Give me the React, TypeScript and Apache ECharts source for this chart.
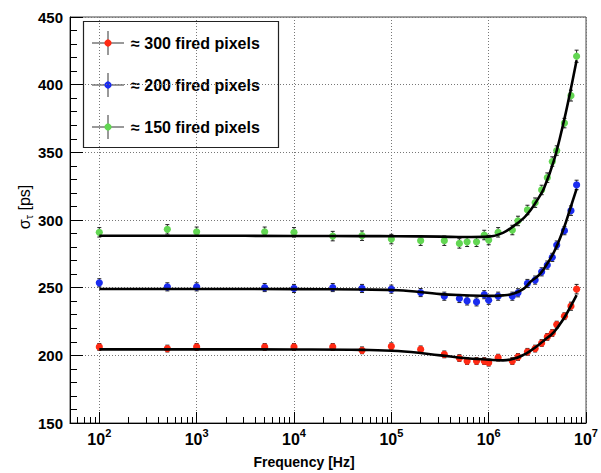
import React, { useEffect, useRef } from 'react';
import * as echarts from 'echarts';

// ---- data ----
const FREQ_HZ = [100, 500, 1e3, 5e3, 1e4, 2.5e4, 5e4, 1e5, 2e5, 3.5e5, 5e5, 6e5, 7.5e5, 9e5, 1e6, 1.25e6, 1.75e6, 2e6, 2.5e6, 3e6, 3.5e6, 4e6, 4.5e6, 5e6, 6e6, 7e6, 8e6];
const SIGMA_300 = [206.2, 205.0, 206.2, 206.2, 206.2, 206.2, 203.7, 206.7, 204.4, 200.7, 198.0, 195.8, 195.8, 195.8, 194.6, 198.3, 195.8, 198.8, 202.6, 205.0, 209.1, 213.6, 216.5, 222.7, 228.9, 236.3, 248.9];
const SIGMA_200 = [253.6, 250.6, 250.6, 250.1, 249.4, 250.1, 249.4, 248.9, 246.4, 243.7, 242.0, 240.2, 239.5, 244.8, 240.7, 243.7, 243.7, 246.2, 253.1, 255.6, 261.7, 266.7, 272.4, 281.5, 292.1, 306.9, 325.9];
const SIGMA_150 = [290.9, 293.1, 291.3, 291.3, 290.9, 288.1, 288.4, 285.9, 284.7, 284.7, 282.7, 283.9, 283.9, 288.9, 285.2, 290.9, 292.6, 299.3, 307.4, 312.8, 322.2, 331.3, 343.2, 351.3, 371.6, 391.9, 421.0];
const ERR_300 = [2.5, 2.5, 2.5, 2.5, 2.5, 2.5, 2.5, 2.5, 2.5, 2.5, 2.5, 2.5, 2.5, 2.5, 2.5, 2.5, 2.5, 2.5, 2.5, 2.5, 2.5, 2.5, 2.5, 2.5, 2.5, 3, 3.5];
const ERR_200 = [3, 3, 3, 3, 3, 3, 3, 3, 3, 3, 3, 3, 3, 3, 3, 3, 3, 3, 3, 3, 3, 3, 3, 3, 3, 3.5, 3.5];
const ERR_150 = [3.5, 3.5, 3.5, 3.5, 3.5, 3.5, 3.5, 3.5, 3.5, 3.5, 3.5, 3.5, 3.5, 3.5, 3.5, 3.5, 3.5, 3.5, 3.5, 3.5, 3.5, 3.5, 3.5, 3.5, 3.5, 4, 4.5];

const FIT_FREQ_HZ = [100, 1e3, 1e4, 5e4, 1.17e5, 3.2e5, 5.6e5, 1e6, 1.4e6, 1.8e6, 2.3e6, 2.7e6, 3.2e6, 3.7e6, 4.7e6, 5.9e6, 6.9e6, 8e6];
const FIT_300 = [204.4, 204.4, 204.3, 204.0, 203.2, 200.0, 198.0, 196.8, 196.3, 197.4, 200.5, 203.5, 207.3, 211.0, 217.4, 227.2, 235.8, 244.5];
const FIT_200 = [249.0, 249.0, 248.9, 248.6, 248.1, 245.2, 244.4, 243.9, 244.3, 245.6, 249.3, 254.5, 258.5, 264.0, 276.5, 293.8, 308.7, 323.0];
const FIT_150 = [288.4, 288.4, 288.2, 288.1, 288.0, 287.7, 287.4, 287.7, 290.5, 295.5, 301.6, 307.4, 315.5, 323.5, 344.4, 372.6, 395.2, 418.0];

const SERIES_NAMES = ['≈ 300 fired pixels', '≈ 200 fired pixels', '≈ 150 fired pixels'];
const SERIES_COLORS = ['#ff2a14', '#1a2cf0', '#62d652'];

const X_MIN_HZ = 50;
const X_MAX_HZ = 1e7;
const DECADE_EXPONENTS = [2, 3, 4, 5, 6, 7];
const Y_MIN = 150;
const Y_MAX = 450;
const Y_STEP = 50;

const FONT = '"Liberation Sans", Arial, Helvetica, sans-serif';

const minorTickValues: number[] = [];
for (let n = 1; n <= 6; n++) {
  for (let k = 2; k <= 9; k++) {
    const v = Math.log10(k * Math.pow(10, n));
    if (v > Math.log10(X_MIN_HZ) + 1e-9 && v < Math.log10(X_MAX_HZ)) minorTickValues.push(v);
  }
}

function errorSeries(name: string, color: string, values: number[], errs: number[]) {
  return {
    type: 'custom',
    name,
    xAxisIndex: 0,
    yAxisIndex: 0,
    z: 3,
    encode: { x: 0, y: 1 },
    data: FREQ_HZ.map((f, i) => [Math.log10(f), values[i], errs[i]]),
    renderItem: (params: any, api: any) => {
      const x = api.value(0);
      const y = api.value(1);
      const e = api.value(2);
      const c = api.coord([x, y]);
      const top = api.coord([x, y + e]);
      const bot = api.coord([x, y - e]);
      const cap = 2;
      const ls = { stroke: '#222', lineWidth: 1 };
      return {
        type: 'group',
        children: [
          { type: 'line', shape: { x1: c[0], y1: top[1], x2: c[0], y2: bot[1] }, style: ls },
          { type: 'line', shape: { x1: c[0] - cap, y1: top[1], x2: c[0] + cap, y2: top[1] }, style: ls },
          { type: 'line', shape: { x1: c[0] - cap, y1: bot[1], x2: c[0] + cap, y2: bot[1] }, style: ls },
          { type: 'circle', shape: { cx: c[0], cy: c[1], r: 3.6 }, style: { fill: color } },
        ],
      };
    },
  };
}

function fitSeries(values: number[]) {
  return {
    type: 'line',
    xAxisIndex: 0,
    yAxisIndex: 0,
    z: 4,
    symbol: 'none',
    smooth: 0.4,
    lineStyle: { color: '#000', width: 2.6 },
    data: FIT_FREQ_HZ.map((f, i) => [Math.log10(f), values[i]]),
  };
}

function legendGraphic() {
  const rowsY = [43, 85, 127];
  const children: any[] = [
    { type: 'rect', shape: { x: 83.5, y: 21.5, width: 195, height: 126 }, style: { fill: '#fff', stroke: '#222', lineWidth: 1.2 } },
  ];
  rowsY.forEach((y, i) => {
    children.push(
      { type: 'line', shape: { x1: 92, y1: y, x2: 124, y2: y }, style: { stroke: '#555', lineWidth: 1.2 } },
      { type: 'line', shape: { x1: 108, y1: y - 12, x2: 108, y2: y + 12 }, style: { stroke: '#555', lineWidth: 1.2 } },
      { type: 'circle', shape: { cx: 108, cy: y, r: 3.6 }, style: { fill: SERIES_COLORS[i] } },
      {
        type: 'text',
        x: 131,
        y: y,
        style: { text: SERIES_NAMES[i], fill: '#000', font: `bold 16px ${FONT}`, align: 'left', verticalAlign: 'middle' },
      }
    );
  });
  return { type: 'group', z: 10, children };
}

export default function App() {
  const ref = useRef<HTMLDivElement>(null);
  useEffect(() => {
    if (!ref.current) return;
    const chart = echarts.init(ref.current, undefined, { renderer: 'svg' });
    const option: any = {
      animation: false,
      backgroundColor: '#fff',
      grid: { left: 70, right: 12, top: 17, bottom: 50, show: true, borderColor: '#444', borderWidth: 1 },
      xAxis: [
        {
          type: 'value',
          min: Math.log10(X_MIN_HZ),
          max: Math.log10(X_MAX_HZ),
          axisLine: { show: true, lineStyle: { color: '#000', width: 1 } },
          axisTick: { show: true, inside: true, length: 11, customValues: DECADE_EXPONENTS, lineStyle: { color: '#000' } },
          axisLabel: {
            customValues: DECADE_EXPONENTS,
            margin: 4,
            formatter: (v: number) => `{b|10}{s|${Math.round(v)}}`,
            rich: {
              b: { fontSize: 16, fontWeight: 'bold', fontFamily: FONT, color: '#000', verticalAlign: 'bottom', lineHeight: 20 },
              s: { fontSize: 11, fontWeight: 'bold', fontFamily: FONT, color: '#000', verticalAlign: 'top', lineHeight: 12 },
            },
          },
          splitLine: { show: true, lineStyle: { type: [1, 2], color: '#777', width: 1 } },
        },
        {
          type: 'value',
          position: 'bottom',
          min: Math.log10(X_MIN_HZ),
          max: Math.log10(X_MAX_HZ),
          axisLine: { show: false },
          axisTick: { show: true, inside: true, length: 6, customValues: minorTickValues, lineStyle: { color: '#000' } },
          axisLabel: { show: false },
          splitLine: { show: false },
        },
      ],
      yAxis: {
        type: 'value',
        min: Y_MIN,
        max: Y_MAX,
        interval: Y_STEP,
        axisLine: { show: true, lineStyle: { color: '#000', width: 1 } },
        axisTick: { show: true, inside: true, length: 13, lineStyle: { color: '#000' } },
        minorTick: { show: true, splitNumber: 5, length: 7, lineStyle: { color: '#000' } },
        axisLabel: { color: '#000', fontSize: 15, fontWeight: 'bold', fontFamily: FONT, margin: 7 },
        splitLine: { show: true, lineStyle: { type: [1, 2], color: '#777', width: 1 } },
      },
      series: [
        errorSeries(SERIES_NAMES[0], SERIES_COLORS[0], SIGMA_300, ERR_300),
        errorSeries(SERIES_NAMES[1], SERIES_COLORS[1], SIGMA_200, ERR_200),
        errorSeries(SERIES_NAMES[2], SERIES_COLORS[2], SIGMA_150, ERR_150),
        fitSeries(FIT_300),
        fitSeries(FIT_200),
        fitSeries(FIT_150),
      ],
      graphic: [
        legendGraphic(),
        {
          type: 'text',
          x: 304,
          y: 462,
          style: { text: 'Frequency [Hz]', fill: '#000', font: `bold 14px ${FONT}`, align: 'center', verticalAlign: 'middle' },
        },
        {
          type: 'text',
          x: 24,
          y: 207,
          rotation: Math.PI / 2,
          style: {
            text: '{a|σ}{t|τ}{a| [ps]}',
            align: 'center',
            verticalAlign: 'middle',
            rich: {
              a: { fontSize: 16, fontFamily: FONT, fill: '#000', verticalAlign: 'middle', lineHeight: 20 },
              t: { fontSize: 11, fontFamily: FONT, fill: '#000', verticalAlign: 'bottom', lineHeight: 12 },
            },
          },
        },
      ],
    };
    chart.setOption(option);
    return () => chart.dispose();
  }, []);
  return <div ref={ref} style={{ position: 'absolute', left: 0, top: 0, width: 601, height: 473 }} />;
}
